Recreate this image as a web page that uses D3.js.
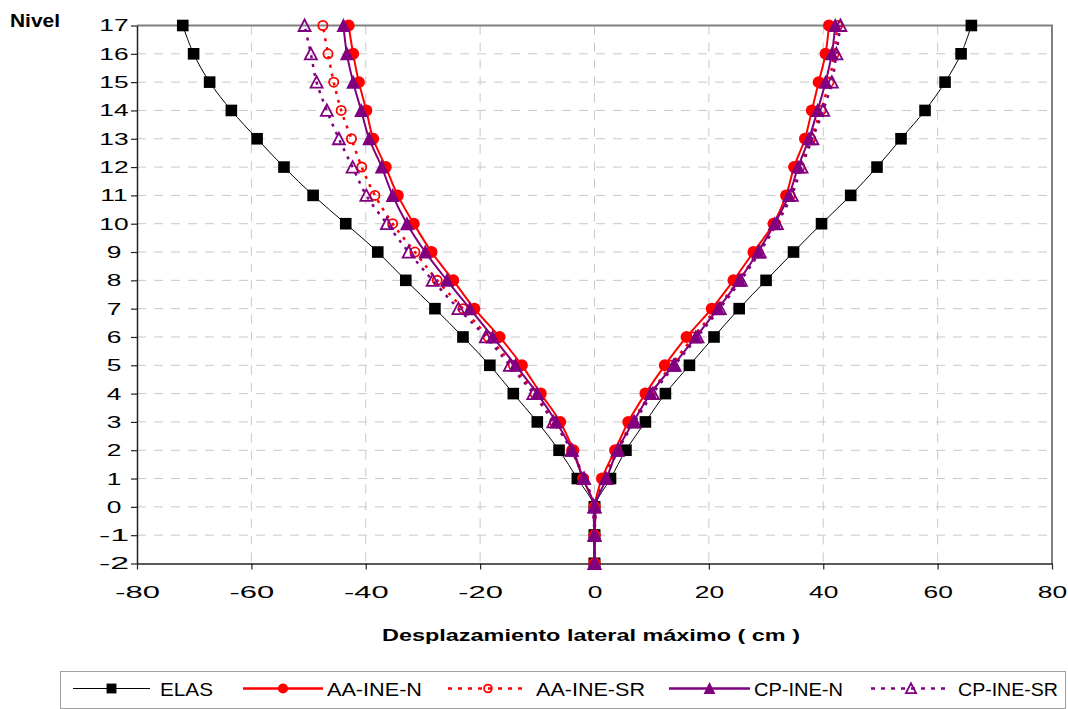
<!DOCTYPE html>
<html>
<head>
<meta charset="utf-8">
<script src="https://cdn.jsdelivr.net/npm/d3@7"></script>
<style>
  html, body { margin: 0; padding: 0; background: #fff; }
  svg { display: block; font-family: "Liberation Sans", Arial, sans-serif; }
</style>
</head>
<body>
<svg id="chart" width="1068" height="709"></svg>
<script>
// ---------- data ----------
const levels = [-2,-1,0,1,2,3,4,5,6,7,8,9,10,11,12,13,14,15,16,17];
const xTicks = [-80,-60,-40,-20,0,20,40,60,80];
const yTicks = [-2,-1,0,1,2,3,4,5,6,7,8,9,10,11,12,13,14,15,16,17];

const elasNeg = [0,0,0,-3.0,-6.2,-10.0,-14.2,-18.3,-23.0,-27.9,-33.0,-37.9,-43.5,-49.2,-54.3,-59.0,-63.5,-67.3,-70.1,-72.0];
const elasPos = [0,0,0,2.8,5.5,8.9,12.4,16.6,20.9,25.3,30.0,34.8,39.7,44.8,49.4,53.6,57.8,61.3,64.1,65.9];

const aaNNeg = [0,0,0,-2.0,-3.7,-6.0,-9.4,-12.7,-16.6,-21.0,-24.7,-28.5,-31.6,-34.4,-36.5,-38.7,-39.9,-41.2,-42.2,-43.0];
const aaNPos = [0,0,0,1.3,3.6,5.9,8.9,12.3,16.1,20.5,24.3,27.8,31.3,33.5,34.9,36.8,38.0,39.2,40.4,41.0];

const aaSRNeg = [0,0,0,-1.9,-4.0,-7.0,-10.4,-14.2,-18.6,-23.0,-27.5,-31.4,-35.3,-38.4,-40.7,-42.5,-44.3,-45.6,-46.6,-47.5];
const aaSRPos = [0,0,0,1.6,3.9,6.6,9.8,13.4,17.3,21.3,25.2,28.6,31.7,34.2,35.9,37.8,39.6,41.0,41.9,42.5];

const cpNNeg = [0,0,0,-2.0,-3.9,-6.7,-10.0,-13.8,-17.8,-21.8,-25.8,-29.6,-32.8,-35.3,-37.2,-39.4,-40.8,-42.2,-43.3,-43.9];
const cpNPos = [0,0,0,2.1,4.0,6.8,9.8,13.8,17.7,21.6,25.3,28.6,31.5,34.0,35.6,37.5,39.0,40.4,41.5,42.1];

const cpSRNeg = [0,0,0,-1.8,-4.0,-7.2,-10.7,-14.8,-19.0,-23.8,-28.3,-32.5,-36.3,-39.9,-42.3,-44.7,-46.8,-48.6,-49.6,-50.7];
const cpSRPos = [0,0,0,2.0,4.1,7.0,10.2,14.0,18.0,21.9,25.6,28.9,31.9,34.5,36.2,38.1,40.0,41.5,42.3,43.0];

const seriesNames = ["ELAS","AA-INE-N","AA-INE-SR","CP-INE-N","CP-INE-SR"];

const series = [
  {name: seriesNames[0], neg: elasNeg, pos: elasPos, color: "#000000", width: 1, dash: null, marker: "square", hollow: false},
  {name: seriesNames[1], neg: aaNNeg, pos: aaNPos, color: "#FF0000", width: 2, dash: null, marker: "circle", hollow: false},
  {name: seriesNames[2], neg: aaSRNeg, pos: aaSRPos, color: "#FF0000", width: 2.5, dash: "3,6", marker: "circle", hollow: true},
  {name: seriesNames[3], neg: cpNNeg, pos: cpNPos, color: "#800080", width: 2, dash: null, marker: "triangle", hollow: false},
  {name: seriesNames[4], neg: cpSRNeg, pos: cpSRPos, color: "#800080", width: 2.5, dash: "3,6", marker: "triangle", hollow: true}
];

// ---------- layout ----------
const svg = d3.select("#chart");
const X0 = 137, X1 = 1052, Y0 = 25.5, Y1 = 563.5;
const x = d3.scaleLinear().domain([-80, 80]).range([X0, X1]);
const y = d3.scaleLinear().domain([-2, 17]).range([Y1, Y0]);
const STRETCH = 1.55;

// grid
const grid = svg.append("g");
grid.selectAll(".hg").data(yTicks.filter(d => d !== -2 && d !== 17)).enter().append("line")
  .attr("x1", X0).attr("x2", X1).attr("y1", d => y(d)).attr("y2", d => y(d))
  .attr("stroke", "#c8c8c8").attr("stroke-width", 1).attr("stroke-dasharray", "9,8");
grid.selectAll(".vg").data(xTicks.filter(d => d !== -80 && d !== 80)).enter().append("line")
  .attr("x1", d => x(d)).attr("x2", d => x(d)).attr("y1", Y0).attr("y2", Y1)
  .attr("stroke", "#c8c8c8").attr("stroke-width", 1).attr("stroke-dasharray", "9,8");

// top/right border
svg.append("path").attr("d", `M${X0},${Y0}H${X1}V${Y1}`)
  .attr("fill", "none").attr("stroke", "#808080").attr("stroke-width", 2);

// axes
const yAxis = svg.append("g").attr("transform", `translate(${X0},0)`)
  .call(d3.axisLeft(y).tickValues(yTicks).tickSize(6).tickSizeOuter(0).tickFormat(d3.format("d")));
const xAxis = svg.append("g").attr("transform", `translate(0,${Y1})`)
  .call(d3.axisBottom(x).tickValues(xTicks).tickSize(6).tickSizeOuter(0).tickFormat(d3.format("d")));

[yAxis, xAxis].forEach(a => {
  a.select(".domain").attr("stroke", "#222").attr("stroke-width", 1.5);
  a.selectAll(".tick line").attr("stroke", "#222").attr("stroke-width", 1.2);
  a.selectAll("text").attr("font-size", 17).attr("fill", "#000")
    .attr("font-family", '"Liberation Sans", Arial, sans-serif');
});
yAxis.selectAll("text").attr("text-anchor", "middle").attr("x", 114 - X0);
xAxis.selectAll("text").attr("y", 22.5);
svg.selectAll(".tick text").each(function() {
  const w = this.getComputedTextLength();
  d3.select(this).attr("textLength", w * STRETCH).attr("lengthAdjust", "spacingAndGlyphs");
});
svg.selectAll(".tick text").text(function(){ return d3.select(this).text().replace("−","-"); });

// axis titles
svg.append("text").attr("x", 10).attr("y", 26.5).attr("font-size", 18).attr("font-weight", "bold")
  .attr("textLength", 50).attr("lengthAdjust", "spacingAndGlyphs").text("Nivel");
svg.append("text").attr("x", 591).attr("y", 641).attr("text-anchor", "middle")
  .attr("font-size", 17).attr("font-weight", "bold")
  .attr("textLength", 418).attr("lengthAdjust", "spacingAndGlyphs")
  .text("Desplazamiento lateral máximo ( cm )");

// ---------- markers ----------
function drawMarker(g, type, cx, cy, color, hollow, scale) {
  const s = scale || 1;
  if (type === "square") {
    const h = 5.8 * s;
    g.append("rect").attr("x", cx - h).attr("y", cy - h).attr("width", 2*h).attr("height", 2*h)
      .attr("fill", color);
  } else if (type === "circle") {
    if (hollow) {
      g.append("circle").attr("cx", cx).attr("cy", cy).attr("r", 4.6 * s)
        .attr("fill", "none").attr("stroke", color).attr("stroke-width", 1.8);
    } else {
      g.append("circle").attr("cx", cx).attr("cy", cy).attr("r", 6 * s).attr("fill", color);
    }
  } else if (type === "triangle") {
    if (hollow) {
      const w = 6 * s, h = 11 * s;
      g.append("path").attr("d", `M${cx},${cy - h/2 - 0.5}L${cx + w},${cy + h/2}L${cx - w},${cy + h/2}Z`)
        .attr("fill", "none").attr("stroke", color).attr("stroke-width", 1.8);
    } else {
      const w = 7 * s, h = 13 * s;
      g.append("path").attr("d", `M${cx},${cy - h/2 - 1}L${cx + w},${cy + h/2}L${cx - w},${cy + h/2}Z`)
        .attr("fill", color);
    }
  }
}

// ---------- series ----------
const line = d3.line().x(d => x(d[0])).y(d => y(d[1])).curve(d3.curveCatmullRom.alpha(0.5));

series.forEach(s => {
  const g = svg.append("g");
  [s.neg, s.pos].forEach(vals => {
    const pts = vals.map((v, i) => [v, levels[i]]);
    g.append("path").attr("d", line(pts)).attr("fill", "none")
      .attr("stroke", s.color).attr("stroke-width", s.width)
      .attr("stroke-dasharray", s.dash);
    pts.forEach(p => drawMarker(g, s.marker, x(p[0]), y(p[1]), s.color, s.hollow));
  });
});

// ---------- legend ----------
const lg = svg.append("g");
lg.append("rect").attr("x", 60.5).attr("y", 671.5).attr("width", 1005).attr("height", 37)
  .attr("fill", "#fff").attr("stroke", "#a0a0a0").attr("stroke-width", 1);
const legendItems = [
  {lx0: 73, lx1: 150, tx: 160, tw: 53},
  {lx0: 243, lx1: 323, tx: 327, tw: 95},
  {lx0: 448, lx1: 528, tx: 536, tw: 109},
  {lx0: 669, lx1: 750, tx: 754, tw: 89},
  {lx0: 871, lx1: 951, tx: 958, tw: 100}
];
const LY = 688.5;
series.forEach((s, i) => {
  const it = legendItems[i];
  lg.append("line").attr("x1", it.lx0).attr("x2", it.lx1).attr("y1", LY).attr("y2", LY)
    .attr("stroke", s.color).attr("stroke-width", s.width === 1 ? 1 : 2.5)
    .attr("stroke-dasharray", s.dash ? "4,6" : null);
  drawMarker(lg, s.marker, (it.lx0 + it.lx1) / 2, LY, s.color, s.hollow, 0.85);
  lg.append("text").attr("x", it.tx).attr("y", LY + 7).attr("font-size", 19)
    .attr("textLength", it.tw).attr("lengthAdjust", "spacingAndGlyphs").text(s.name);
});
</script>
</body>
</html>
